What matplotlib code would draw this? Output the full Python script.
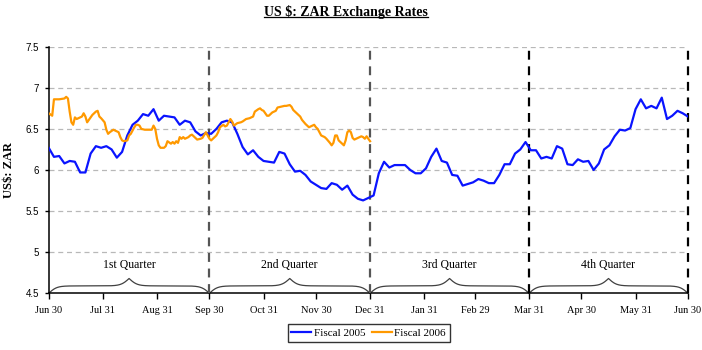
import numpy as np
import matplotlib
matplotlib.use('Agg')
import matplotlib.pyplot as plt
from matplotlib.lines import Line2D

# ---------------- DATOS ----------------
tick_days = [0, 31, 62, 92, 123, 153, 184, 215, 244, 275, 305, 336, 366]
tick_labels = ['Jun 30', 'Jul 31', 'Aug 31', 'Sep 30', 'Oct 31', 'Nov 30', 'Dec 31',
               'Jan 31', 'Feb 29', 'Mar 31', 'Apr 30', 'May 31', 'Jun 30']
quarter_days = [0, 92, 184, 275, 366]
quarter_names = ['1st Quarter', '2nd Quarter', '3rd Quarter', '4th Quarter']

# Fiscal 2005: un valor cada 3 dias desde Jun 30
fy05_day = list(range(0, 367, 3))
fy05_rate = [
    6.27, 6.16, 6.17, 6.08, 6.11, 6.10, 5.97, 5.97, 6.20, 6.29,
    6.27, 6.29, 6.25, 6.15, 6.22, 6.42, 6.55, 6.60, 6.68, 6.66,
    6.74, 6.60, 6.66, 6.65, 6.64, 6.55, 6.60, 6.58, 6.47, 6.42,
    6.45, 6.44, 6.50, 6.58, 6.60, 6.58, 6.44, 6.28, 6.19, 6.24,
    6.16, 6.11, 6.10, 6.09, 6.22, 6.20, 6.07, 5.98, 5.99, 5.94,
    5.86, 5.82, 5.78, 5.77, 5.84, 5.82, 5.76, 5.81, 5.70, 5.65,
    5.63, 5.66, 5.69, 5.96, 6.10, 6.03, 6.06, 6.06, 6.06, 6.00,
    5.96, 5.96, 6.02, 6.16, 6.26, 6.11, 6.09, 5.94, 5.93, 5.81,
    5.83, 5.85, 5.89, 5.87, 5.84, 5.84, 5.94, 6.07, 6.07, 6.20,
    6.25, 6.34, 6.24, 6.24, 6.14, 6.16, 6.14, 6.29, 6.26, 6.07,
    6.06, 6.13, 6.10, 6.11, 6.00, 6.08, 6.25, 6.30, 6.41, 6.49,
    6.48, 6.51, 6.74, 6.86, 6.75, 6.78, 6.75, 6.88, 6.62, 6.66,
    6.72, 6.69, 6.65,
]

# Fiscal 2006: hasta Dec 31
fy06_day = [
    0, 2, 3, 6, 9, 10, 11, 12, 13, 14, 15, 16, 19, 20, 21, 22, 23, 25, 27, 28,
    29, 30, 32, 33, 34, 35, 37, 38, 40, 41, 42, 43, 45, 46, 47, 49, 50, 51, 52, 53,
    55, 59, 60, 61, 62, 63, 64, 66, 67, 68, 70, 71, 72, 73, 74, 75, 76, 77, 78, 80,
    81, 82, 84, 85, 87, 88, 90, 91, 92, 93, 94, 96, 97, 98, 100, 101, 102, 103, 104, 105,
    106, 108, 110, 111, 113, 115, 117, 118, 120, 121, 122, 123, 125, 126, 128, 130, 131, 133, 135, 136,
    138, 139, 140, 142, 144, 145, 147, 148, 149, 151, 152, 153, 154, 155, 156, 157, 158, 159, 161, 162,
    163, 164, 165, 166, 168, 169, 170, 171, 172, 173, 174, 175, 177, 178, 179, 180, 181, 182, 183, 184,
]
fy06_rate = [
    6.69, 6.66, 6.86, 6.86, 6.87, 6.89, 6.87, 6.71, 6.58, 6.55, 6.64, 6.62, 6.65, 6.69, 6.65, 6.58, 6.61, 6.67, 6.71, 6.72,
    6.65, 6.63, 6.58, 6.49, 6.44, 6.46, 6.49, 6.48, 6.46, 6.40, 6.36, 6.35, 6.36, 6.42, 6.44, 6.52, 6.55, 6.55, 6.54, 6.50,
    6.49, 6.49, 6.54, 6.50, 6.38, 6.30, 6.27, 6.27, 6.29, 6.35, 6.32, 6.34, 6.32, 6.35, 6.33, 6.40, 6.38, 6.40, 6.38, 6.40,
    6.42, 6.43, 6.39, 6.37, 6.38, 6.39, 6.46, 6.42, 6.38, 6.36, 6.38, 6.42, 6.46, 6.52, 6.55, 6.53, 6.54, 6.58, 6.62, 6.59,
    6.54, 6.57, 6.58, 6.59, 6.62, 6.63, 6.65, 6.71, 6.74, 6.75, 6.73, 6.72, 6.66, 6.66, 6.70, 6.72, 6.76, 6.77, 6.78, 6.78,
    6.79, 6.77, 6.73, 6.69, 6.65, 6.61, 6.56, 6.54, 6.52, 6.54, 6.55, 6.52, 6.50, 6.46, 6.42, 6.41, 6.40, 6.38, 6.33, 6.30,
    6.33, 6.42, 6.42, 6.36, 6.32, 6.30, 6.36, 6.46, 6.48, 6.46, 6.39, 6.37, 6.39, 6.40, 6.41, 6.40, 6.38, 6.41, 6.38, 6.35,
]

SERIF = 'Liberation Serif'
SANS = 'Liberation Sans'


# ------------- LLAVE DE TRIMESTRE -------------
def draw_brace(ax, x0, x1, ybase, h, beta=40.0):
    t = np.linspace(0, 0.5, 200)
    half = 1 / (1 + np.exp(-beta * (t - t[0]))) + 1 / (1 + np.exp(-beta * (t - t[-1])))
    yy = np.concatenate([half, half[-2::-1]])
    xs = np.linspace(x0, x1, len(yy))
    ys = ybase + (yy - 0.5) * h
    ax.plot(xs, ys, color='#404040', lw=0.9, clip_on=False, zorder=2)


# ------------- GRAFICA -------------
fig = plt.figure(figsize=(7.02, 3.5), dpi=100)
ax = fig.add_axes([0.0694, 0.162, 0.9106, 0.7046])

ax.set_xlim(0, 366)
ax.set_ylim(4.5, 7.5)

for v in [5.0, 5.5, 6.0, 6.5, 7.0, 7.5]:
    ax.axhline(v, color='#b8b8b8', lw=0.9, ls=(0, (4, 3)), zorder=1)

for i, d in enumerate(quarter_days[1:]):
    col = '#555555' if i < 2 else 'black'
    ax.axvline(d, color=col, lw=1.6, ls=(0, (4, 3)), zorder=3, clip_on=False)

ax.plot(fy05_day, fy05_rate, color='#0a14ff', lw=1.6, label='Fiscal 2005', zorder=4)
ax.plot(fy06_day, fy06_rate, color='#ff9900', lw=1.6, label='Fiscal 2006', zorder=5)

for i, name in enumerate(quarter_names):
    a, b = quarter_days[i], quarter_days[i + 1]
    draw_brace(ax, a, b, 4.5, 0.18)
    ax.text((a + b) / 2, 4.84, name, ha='center', va='center',
            family=SERIF, fontsize=8.5)

ax.set_xticks(tick_days)
ax.set_xticklabels(tick_labels, family=SERIF, fontsize=7.5)
ax.set_yticks([4.5, 5, 5.5, 6, 6.5, 7, 7.5])
ax.set_yticklabels(['4.5', '5', '5.5', '6', '6.5', '7', '7.5'], family=SANS, fontsize=7)
ax.tick_params(axis='x', length=4, width=1, pad=5)
ax.tick_params(axis='y', length=3, width=1, pad=4)

for s in ['top', 'right']:
    ax.spines[s].set_visible(False)
for s in ['left', 'bottom']:
    ax.spines[s].set_linewidth(1.1)

ax.set_ylabel('US$: ZAR', family=SERIF, fontsize=9, fontweight='bold')
ax.yaxis.set_label_coords(-0.053, 0.5)

leg = fig.legend(loc='center', bbox_to_anchor=(0.525, 0.048), ncol=2,
                 prop={'family': SERIF, 'size': 8}, frameon=True, fancybox=False,
                 handlelength=1.8, handletextpad=0.2, columnspacing=0.6,
                 borderpad=0.35, borderaxespad=0)
leg.get_frame().set_edgecolor('black')
leg.get_frame().set_linewidth(1.0)

title = fig.text(0.493, 0.965, 'US $: ZAR Exchange Rates', ha='center', va='center',
                 family=SERIF, fontsize=10, fontweight='bold')

# subrayado del titulo
fig.canvas.draw()
bb = title.get_window_extent(fig.canvas.get_renderer())
inv = fig.transFigure.inverted()
(ux0, uy0), (ux1, uy1) = inv.transform([[bb.x0, bb.y0 + 2], [bb.x1, bb.y0 + 2]])
fig.add_artist(Line2D([ux0, ux1], [uy0, uy1], color='black', lw=0.9))

fig.savefig('out.png', dpi=100)
